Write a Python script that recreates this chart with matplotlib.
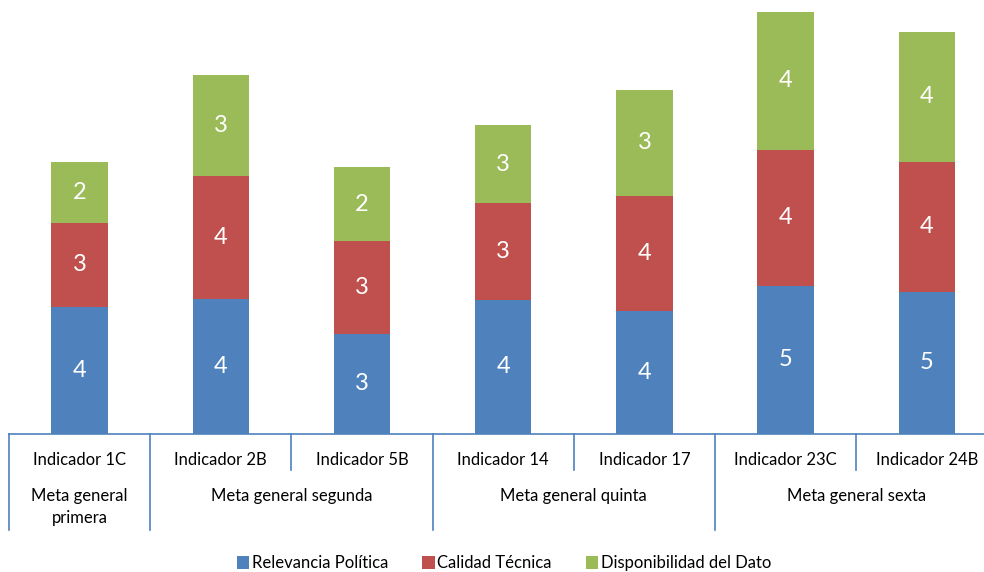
import matplotlib
matplotlib.use("Agg")
import matplotlib.pyplot as plt
import matplotlib.transforms as mtransforms
from matplotlib.patches import Patch
import numpy as np

indicators = ["Indicador 1C", "Indicador 2B", "Indicador 5B", "Indicador 14",
              "Indicador 17", "Indicador 23C", "Indicador 24B"]
groups = ["Meta general\nprimera", "Meta general segunda", "Meta general quinta", "Meta general sexta"]
group_spans = [(0, 0), (1, 2), (3, 4), (5, 6)]

relevancia = [4.11, 4.37, 3.22, 4.33, 3.99, 4.78, 4.58]
calidad = [2.72, 3.99, 3.03, 3.14, 3.73, 4.43, 4.24]
disponibilidad = [1.99, 3.27, 2.39, 2.53, 3.43, 4.47, 4.21]

series = [("Relevancia Política", relevancia, "#4F81BD"),
          ("Calidad Técnica", calidad, "#C0504D"),
          ("Disponibilidad del Dato", disponibilidad, "#9BBB59")]

plt.rcParams['font.family'] = ['Lato', 'DejaVu Sans']

W, H = 984, 572
fig = plt.figure(figsize=(W / 100, H / 100), dpi=100)

# axes in pixel geometry
left_px, right_px = 8.9, 997.6
top_px, bottom_px = 2.0, 433.5
ax = fig.add_axes([left_px / W, 1 - bottom_px / H, (right_px - left_px) / W, (bottom_px - top_px) / H])
ax.set_xlim(-0.5, 6.5)
ax.set_ylim(0, 14)
ax.axis('off')

x = np.arange(len(indicators))
bottom = np.zeros(len(indicators))
for name, vals, col in series:
    bars = ax.bar(x, vals, 0.4, bottom=bottom, color=col, label=name, edgecolor='none')
    ax.bar_label(bars, labels=[f"{v:.0f}" for v in vals], label_type='center',
                 color='white', fontsize=17)
    bottom += np.array(vals)

# multi-level category axis
tr = mtransforms.blended_transform_factory(ax.transData, fig.transFigure)
axis_col = "#4F81BD"
def fy(px):
    return 1 - px / H

ax.plot([-0.5, 6.5], [fy(434), fy(434)], transform=tr, color=axis_col, lw=1.2, clip_on=False)
long_b = [-0.5, 0.5, 2.5, 4.5, 6.5]
short_b = [1.5, 3.5, 5.5]
for b in long_b:
    ax.plot([b, b], [fy(434), fy(530)], transform=tr, color=axis_col, lw=1.2, clip_on=False)
for b in short_b:
    ax.plot([b, b], [fy(434), fy(470)], transform=tr, color=axis_col, lw=1.2, clip_on=False)

for i, lab in enumerate(indicators):
    ax.text(i, fy(460), lab, transform=tr, ha='center', va='center', fontsize=12, color='black')
for (a, b), g in zip(group_spans, groups):
    yc = fy(507) if "\n" in g else fy(496)
    ax.text((a + b) / 2, yc, g, transform=tr, ha='center', va='center', fontsize=12,
            color='black', linespacing=1.4)

handles = [Patch(facecolor=c, edgecolor='none') for _, _, c in series]
fig.legend(handles, [n for n, _, _ in series], loc='center', bbox_to_anchor=(504 / W, fy(563)),
           ncol=3, frameon=False, fontsize=12, handlelength=0.75, handleheight=0.8,
           handletextpad=0.15, columnspacing=2.05)

fig.savefig("out.png", dpi=100)
